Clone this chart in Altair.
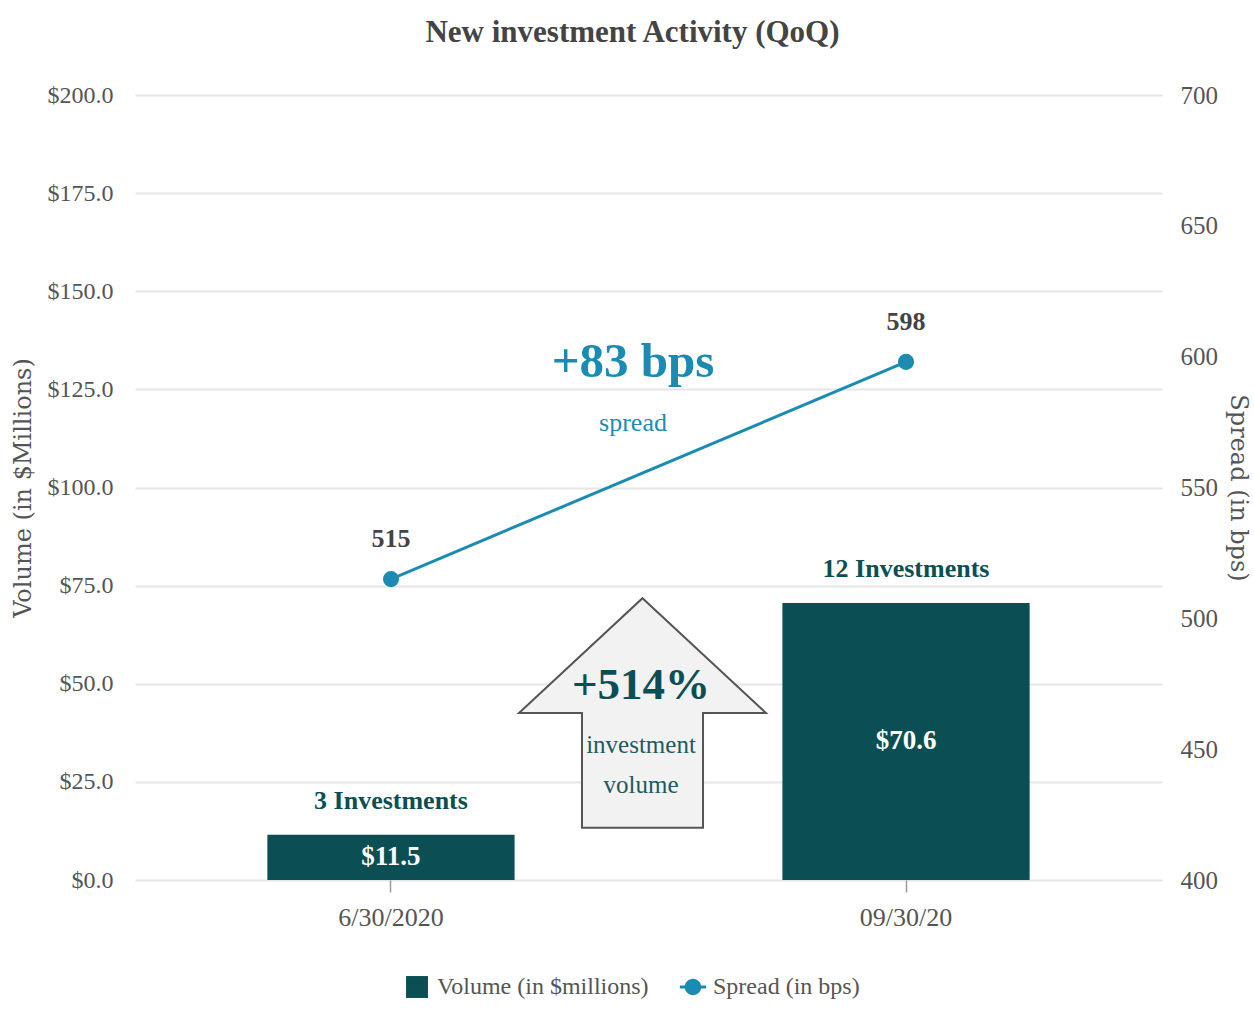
import altair as alt
import pandas as pd

# ---- data ----
dates = ["6/30/2020", "09/30/20"]
volume = [11.5, 70.6]
spread = [515, 598]
counts = ["3 Investments", "12 Investments"]
vol_labels = ["$11.5", "$70.6"]
series = ["Volume (in $millions)", "Spread (in bps)"]
vol_ticks = [0, 25, 50, 75, 100, 125, 150, 175, 200]
spread_ticks = [400, 450, 500, 550, 600, 650, 700]
ann_volume = ["+514%", "investment", "volume"]
ann_spread = ["+83 bps", "spread"]

TEAL = "#0b4f55"
BLUE = "#1a8cb4"
GRID = "#e6e6e6"
LAB = "#555555"
SERIF = "Liberation Serif"
WIDE = "DejaVu Serif"

bar_df = pd.DataFrame({"date": dates, "volume": volume, "count": counts,
                       "vlabel": vol_labels, "series": series[0]})
bar_df["half"] = bar_df["volume"] / 2
line_df = pd.DataFrame({"date": dates, "spread": spread, "series": series[1]})

x_enc = alt.X("date:N", sort=dates, title=None,
              scale=alt.Scale(paddingInner=0.52, paddingOuter=0.257),
              axis=alt.Axis(labelAngle=0, labelFont=SERIF, labelFontSize=26,
                            labelColor=LAB, labelPadding=12, domain=False,
                            ticks=True, tickSize=12, tickColor="#999999",
                            tickWidth=1.5, grid=False))

y_left = alt.Y("volume:Q", scale=alt.Scale(domain=[0, 200], nice=False),
               axis=alt.Axis(values=vol_ticks, format="$,.1f", title="Volume (in $Millions)",
                             labelFont=SERIF, labelFontSize=24, labelColor=LAB,
                             labelPadding=22, ticks=False, domain=False,
                             grid=True, gridColor=GRID, gridWidth=2,
                             titleFont=WIDE, titleFontSize=24, titleFontWeight="normal",
                             titleColor=LAB, titlePadding=12))

y_right = alt.Y("spread:Q", scale=alt.Scale(domain=[400, 700], nice=False),
                axis=alt.Axis(orient="right", values=spread_ticks, title="Spread (in bps)",
                              labelFont=SERIF, labelFontSize=25, labelColor=LAB,
                              labelPadding=18, ticks=False, domain=False, grid=False,
                              titleFont=WIDE, titleFontSize=24, titleFontWeight="normal",
                              titleColor=LAB, titlePadding=8))

spread_symbol = ("M-1.2,-0.13 L1.2,-0.13 L1.2,0.13 L-1.2,0.13 Z "
                 "M0.75,0 A0.75,0.75 0 1,1 -0.75,0 A0.75,0.75 0 1,1 0.75,0 Z")

legend = alt.Legend(title=None, orient="none", legendX=270, legendY=880,
                    direction="horizontal", labelFont=SERIF, labelFontSize=24,
                    labelColor=LAB, symbolSize=480, columnPadding=30, labelOffset=8,
                    symbolStrokeWidth=0, labelLimit=0)
color_enc = alt.Color("series:N", scale=alt.Scale(domain=series, range=[TEAL, BLUE]),
                      legend=legend)
shape_enc = alt.Shape("series:N",
                      scale=alt.Scale(domain=series, range=["square", spread_symbol]),
                      legend=legend)

base_bar = alt.Chart(bar_df)
bars = base_bar.mark_bar(opacity=1).encode(x=x_enc, y=y_left, color=color_enc)
count_text = base_bar.mark_text(font=SERIF, fontSize=26, fontWeight="bold", color=TEAL,
                                baseline="middle", dy=-34).encode(
    x=x_enc, y=y_left, text="count:N")
val_text = base_bar.mark_text(font=SERIF, fontSize=27, fontWeight="bold", color="white",
                              baseline="middle").encode(
    x=x_enc, y=alt.Y("half:Q", scale=alt.Scale(domain=[0, 200], nice=False)), text="vlabel:N")

arrow_path = "M0,-0.93 L1,0 L0.49,0 L0.49,0.93 L-0.49,0.93 L-0.49,0 L-1,0 Z"
arrow = alt.Chart(pd.DataFrame({"a": [ann_volume[0]]})).mark_point(
    shape=arrow_path, size=61009, filled=True, fill="#f2f2f2", stroke="#555555",
    strokeWidth=2, opacity=1).encode(x=alt.value(507.5), y=alt.value(618))

def ann(text, x, y, size, color, weight="normal"):
    return alt.Chart(pd.DataFrame({"t": [text]})).mark_text(
        font=SERIF, fontSize=size, fontWeight=weight, color=color, baseline="middle",
        align="center").encode(x=alt.value(x), y=alt.value(y), text="t:N")

a1 = ann(ann_volume[0], 506, 590, 45, TEAL, "bold")
a2 = ann(ann_volume[1], 506, 650, 25, "#1d5a5e")
a3 = ann(ann_volume[2], 506, 690, 25, "#1d5a5e")
b1 = ann(ann_spread[0], 498, 267, 49, BLUE, "bold")
b2 = ann(ann_spread[1], 498, 328, 26, BLUE)

left = alt.layer(bars, count_text, val_text, arrow, a1, a2, a3)

base_line = alt.Chart(line_df)
line = base_line.mark_line(strokeWidth=3).encode(x=x_enc, y=y_right, color=color_enc)
pts = base_line.mark_point(filled=True, size=260, opacity=1, shape="circle").encode(
    x=x_enc, y=y_right, color=color_enc)
legend_carrier = base_line.transform_filter("false").mark_point(
    filled=True, opacity=1).encode(x=x_enc, y=y_right, color=color_enc, shape=shape_enc)
sp_text = base_line.mark_text(font=SERIF, fontSize=26, fontWeight="bold", color="#444444",
                              baseline="middle", dy=-40).encode(
    x=x_enc, y=y_right, text="spread:Q")

right = alt.layer(line, pts, legend_carrier, sp_text, b1, b2)

chart = alt.layer(left, right).resolve_scale(y="independent").properties(
    width=1027, height=785,
    title=alt.TitleParams("New investment Activity (QoQ)", font=SERIF, fontSize=31,
                          fontWeight="bold", color="#444444", anchor="middle",
                          dx=-16, offset=34),
    autosize=alt.AutoSizeParams(type="none"),
    padding={"left": 135, "top": 95, "right": 92, "bottom": 131},
).configure(background="white").configure_view(stroke=None)

chart.save("out.html", embed_options={"renderer": "svg", "actions": False})
